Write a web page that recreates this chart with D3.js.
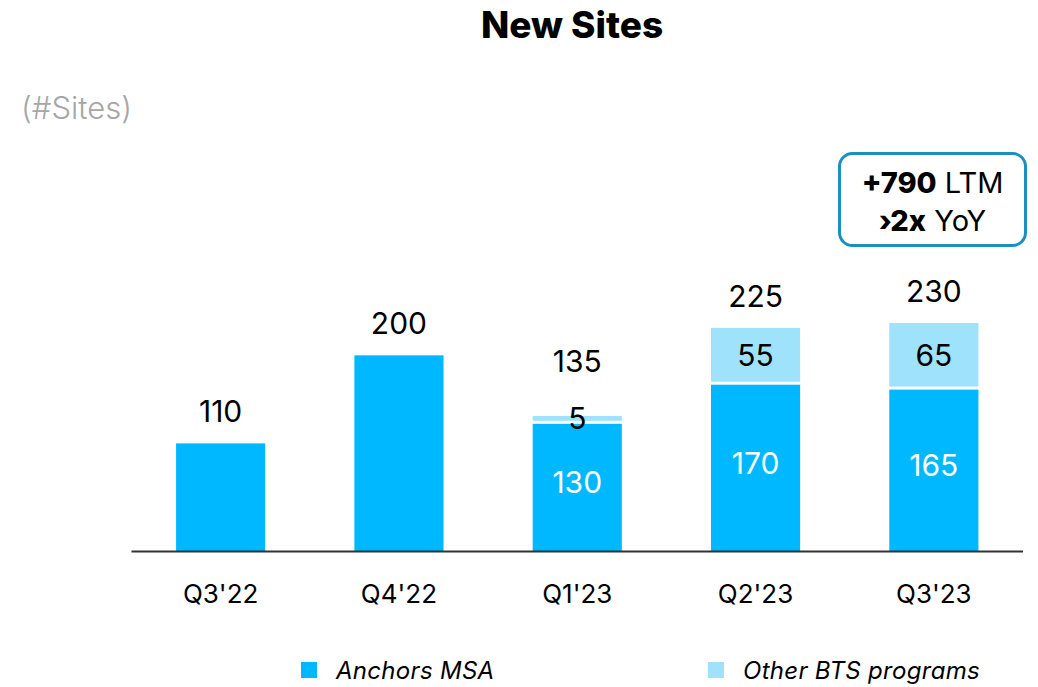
<!DOCTYPE html>
<html>
<head>
<meta charset="utf-8">
<script src="https://cdn.jsdelivr.net/npm/d3@7"></script>
<style>
  html, body { margin: 0; padding: 0; background: #fff; }
  svg { display: block; font-family: Inter, "Open Sans", sans-serif; }
</style>
</head>
<body>
<svg id="chart" width="1038" height="687"></svg>
<script>
const categories = ["Q3'22", "Q4'22", "Q1'23", "Q2'23", "Q3'23"];
const anchorsMSA = [110, 200, 130, 170, 165];
const otherBTS = [0, 0, 5, 55, 65];
const totals = [110, 200, 135, 225, 230];
const seriesNames = ["Anchors MSA", "Other BTS programs"];

const colors = { anchors: "#00b8ff", other: "#9fe2fc" };

const svg = d3.select("#chart");

const x = d3.scaleBand().domain(categories).range([131.5, 1023]).paddingInner(0.5).paddingOuter(0.25);
const y = d3.scaleLinear().domain([0, 230]).range([551, 326]);
const gap = 3;
const fs = 30;

// Title
svg.append("text").attr("x", 572).attr("y", 38).attr("text-anchor", "middle")
  .attr("font-size", 37).attr("font-weight", 800).attr("fill", "#000").text("New Sites");

svg.append("text").attr("x", 21).attr("y", 119)
  .attr("font-size", 31).attr("font-weight", 300).attr("fill", "#a6a6a6").text("(#Sites)");

const data = categories.map((c, i) => ({ c, a: anchorsMSA[i], o: otherBTS[i], t: totals[i] }));

// Anchor bars
svg.append("g").selectAll("rect").data(data).join("rect")
  .attr("x", d => x(d.c)).attr("width", x.bandwidth())
  .attr("y", d => y(d.a)).attr("height", d => y(0) - y(d.a))
  .attr("fill", colors.anchors);

// Other bars
const stacked = data.filter(d => d.o > 0);
svg.append("g").selectAll("rect").data(stacked).join("rect")
  .attr("x", d => x(d.c)).attr("width", x.bandwidth())
  .attr("y", d => y(d.a + d.o) - gap).attr("height", d => y(d.a) - y(d.a + d.o))
  .attr("fill", colors.other);

// Baseline
svg.append("line").attr("x1", x.range()[0]).attr("x2", x.range()[1])
  .attr("y1", y(0) + 0.5).attr("y2", y(0) + 0.5)
  .attr("stroke", "#333").attr("stroke-width", 2);

// X labels
const xAxis = svg.append("g").attr("transform", `translate(0,${y(0)})`)
  .call(d3.axisBottom(x).tickSize(0).tickPadding(0));
xAxis.select(".domain").remove();
xAxis.selectAll("text").attr("font-size", 26).attr("fill", "#000")
  .attr("font-family", "Inter, sans-serif").attr("dy", 0).attr("y", 52);

// Inside labels for stacked bars
const labG = svg.append("g").attr("font-size", fs).attr("text-anchor", "middle");
labG.selectAll("text.in").data(stacked).join("text").attr("class", "in")
  .attr("x", d => x(d.c) + x.bandwidth() / 2)
  .attr("y", d => (y(d.a) + y(0)) / 2 + 6)
  .attr("fill", "#fff").text(d => d.a);

function otherBaseline(d) {
  return (y(d.a) - gap + y(d.a + d.o) - gap) / 2 + 11;
}
labG.selectAll("text.oth").data(stacked).join("text").attr("class", "oth")
  .attr("x", d => x(d.c) + x.bandwidth() / 2)
  .attr("y", d => otherBaseline(d))
  .attr("fill", "#000").text(d => d.o);

// Totals
labG.selectAll("text.tot").data(data).join("text").attr("class", "tot")
  .attr("x", d => x(d.c) + x.bandwidth() / 2)
  .attr("y", d => {
    const top = y(d.t) - (d.o > 0 ? gap : 0) - 21;
    if (d.o > 0 && (y(d.a) - y(d.t)) < 20) return Math.min(top, otherBaseline(d) - 1.9 * fs);
    return top;
  })
  .attr("fill", "#000").text(d => d.t);

// Callout box
const box = svg.append("g");
box.append("rect").attr("x", 839.5).attr("y", 153.5).attr("width", 186).attr("height", 92)
  .attr("rx", 13).attr("fill", "#fff").attr("stroke", "#1b8fc0").attr("stroke-width", 3);
const t1 = box.append("text").attr("x", 932.5).attr("y", 193).attr("text-anchor", "middle").attr("font-size", 29);
t1.append("tspan").attr("font-weight", 800).text("+790");
t1.append("tspan").text(" LTM");
const t2 = box.append("text").attr("x", 932.5).attr("y", 231).attr("text-anchor", "middle").attr("font-size", 29);
t2.append("tspan").attr("font-weight", 800).text("›2x");
t2.append("tspan").text(" YoY");

// Legend
const legend = svg.append("g");
const legendItems = [
  { name: seriesNames[0], color: colors.anchors, x: 301 },
  { name: seriesNames[1], color: colors.other, x: 708 }
];
legendItems.forEach(it => {
  legend.append("rect").attr("x", it.x).attr("y", 662).attr("width", 16).attr("height", 16).attr("fill", it.color);
  legend.append("text").attr("x", it.x + 35).attr("y", 679).attr("font-size", 24)
    .attr("letter-spacing", 0.3)
    .attr("font-style", "italic").attr("fill", "#000").text(it.name);
});
</script>
</body>
</html>
